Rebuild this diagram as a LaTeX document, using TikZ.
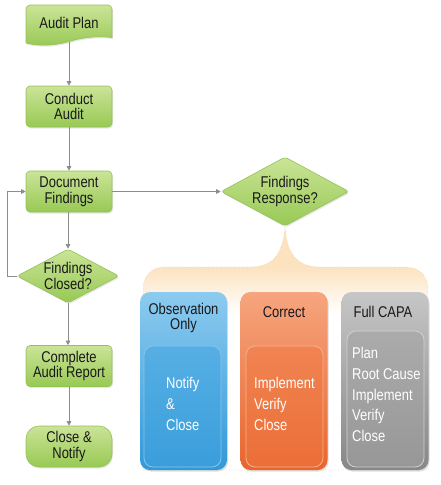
\documentclass[tikz,border=0pt]{standalone}
\usepackage{fontspec}
\setmainfont{Liberation Sans}[FakeStretch=0.83]
\usetikzlibrary{shapes.geometric,arrows.meta,shadows}
\definecolor{gTop}{HTML}{CBE498}
\definecolor{gBot}{HTML}{98C954}
\definecolor{gLine}{HTML}{93C256}
\definecolor{conn}{HTML}{8C8C8C}
\definecolor{peach}{HTML}{FCE2BE}
\definecolor{peachLine}{HTML}{E6CFAE}
\definecolor{bTop}{HTML}{8CCBEF}
\definecolor{bBot}{HTML}{3199D9}
\definecolor{bInTop}{HTML}{56AFE4}
\definecolor{bInBot}{HTML}{3A9EDB}
\definecolor{bInLine}{HTML}{86C6EC}
\definecolor{oTop}{HTML}{F6A57F}
\definecolor{oBot}{HTML}{E8652C}
\definecolor{oInTop}{HTML}{F08452}
\definecolor{oInBot}{HTML}{EB6E36}
\definecolor{oInLine}{HTML}{F6B192}
\definecolor{yTop}{HTML}{C6C6C6}
\definecolor{yBot}{HTML}{878787}
\definecolor{yInTop}{HTML}{ABABAB}
\definecolor{yInBot}{HTML}{979797}
\definecolor{yInLine}{HTML}{D0D0D0}
\pgfdeclareverticalshading{peachfade}{100bp}{color(0bp)=(white); color(25bp)=(white); color(57bp)=(white); color(67bp)=(peach); color(100bp)=(peach)}
\tikzset{
  txt/.style={font=\fontsize{15.6}{15.5}\selectfont, align=center, text=black!90, inner sep=0pt},
  inl/.style={font=\fontsize{15.6}{20.7}\selectfont, align=left, text=white, inner sep=0pt, anchor=west},
  gshade/.style={top color=gTop, bottom color=gBot, draw=gLine, line width=0.6pt},
  gbox/.style={gshade, rounded corners=4pt, minimum width=86pt, minimum height=41pt, inner sep=0pt,
    drop shadow={opacity=0.2, shadow xshift=1pt, shadow yshift=-1.5pt}},
  gdia/.style={gshade, diamond, rounded corners=3pt, inner sep=0pt,
    drop shadow={opacity=0.2, shadow xshift=1pt, shadow yshift=-1.5pt}},
  arr/.style={draw=conn, line width=0.8pt, -{Triangle[length=4.5pt,width=4.5pt]}},
  card/.style={rounded corners=10pt, minimum width=87pt, minimum height=178pt, inner sep=0pt,
    drop shadow={opacity=0.25, shadow xshift=1pt, shadow yshift=-1.5pt}},
  incard/.style={rounded corners=9pt, minimum width=77pt, inner sep=0pt, line width=0.8pt}
}
\begin{document}
\begin{tikzpicture}[x=1pt,y=-1pt]
\useasboundingbox (0,0) rectangle (440,485);
% brace backdrop
\path[shading=peachfade, draw=peachLine, dotted, line width=0.6pt]
  (285,227) .. controls (283,255) and (272,267) .. (250,267) -- (165,267)
  .. controls (151,267) and (143,276) .. (143,290) -- (143,470) -- (428,470) -- (428,290)
  .. controls (428,276) and (420,267) .. (405,267) -- (320,267)
  .. controls (298,267) and (287,255) .. (285,227) -- cycle;
% audit plan document shape
\shadedraw[gshade, drop shadow={opacity=0.2, shadow xshift=1pt, shadow yshift=-1.5pt}]
  (26,43) -- (26,20) [rounded corners=4pt] -- (26,5) -- (112,5) -- (112,20) [sharp corners] -- (112,37.5)
  .. controls (95,35.5) and (80,38) .. (69,41.5) .. controls (55,45.5) and (40,46.5) .. (26,43) -- cycle;
\node[txt] (ap) at (69,23) {Audit Plan};
\coordinate (apb) at (69,41.5);
% left column
\node[gbox] (ca) at (69,106.5) {};
\node[txt] (cat) at (ca) {Conduct\\Audit};
\node[gbox] (df) at (69,191.5) {};
\node[txt] (dft) at (df) {Document\\Findings};
\node[gdia, minimum width=102pt, minimum height=54pt] (fc) at (68,276) {};
\node[txt] (fct) at (fc) {Findings\\Closed?};
\node[gbox] (car) at (69,366) {};
\node[txt] (cart) at (car) {Complete\\Audit Report};
\node[gbox, rounded corners=13pt] (cn) at (69,446.5) {};
\node[txt] (cnt) at (cn) {Close \&\\Notify};
\node[gdia, minimum width=128pt, minimum height=69pt] (fr) at (285,191.5) {};
\node[txt] (frt) at (fr) {Findings\\Response?};
% connectors
\draw[arr] (apb) -- (ca.north);
\draw[arr] (ca.south) -- (df.north);
\draw[arr] (df.south -| fc.north) -- (fc.north);
\draw[arr] (fc.south) -- (fc.south |- car.north);
\draw[arr] (car.south) -- (cn.north);
\draw[arr] (df.east) -- (fr.west);
\draw[arr] (fc.west) -- ++(-9,0) |- (df.west);
% cards
\node[card, top color=bTop, bottom color=bBot] (obs) at (183.5,381) {};
\node[incard, minimum height=121pt, top color=bInTop, bottom color=bInBot, draw=bInLine] (obsin) at (182.5,406.5) {};
\node[txt] (obst) at (183.5,318) {Observation\\Only};
\node[inl] (obsl) at (166,404) {Notify\\\&\\Close};
\node[card, top color=oTop, bottom color=oBot] (cor) at (284,381) {};
\node[incard, minimum height=121pt, top color=oInTop, bottom color=oInBot, draw=oInLine] (corin) at (284.5,406.5) {};
\node[txt] (cort) at (284,312) {Correct};
\node[inl] (corl) at (254,404) {Implement\\Verify\\Close};
\node[card, top color=yTop, bottom color=yBot] (cap) at (385,381) {};
\node[incard, minimum height=136pt, top color=yInTop, bottom color=yInBot, draw=yInLine] (capin) at (385.5,399) {};
\node[txt] (capt) at (383,312) {Full CAPA};
\node[inl] (capl) at (352,394.5) {Plan\\Root Cause\\Implement\\Verify\\Close};
\end{tikzpicture}
\end{document}
